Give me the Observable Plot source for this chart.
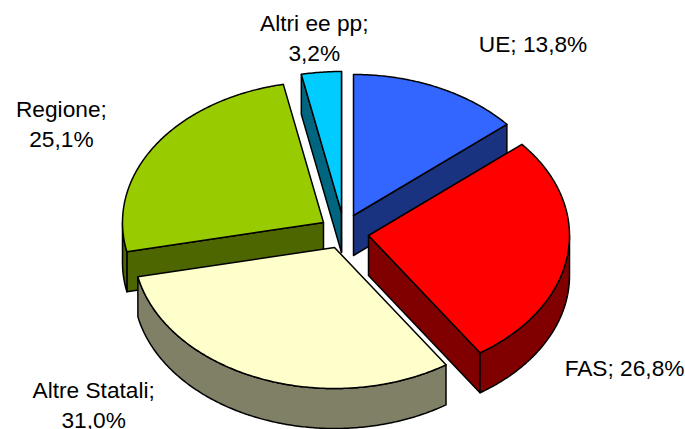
<!DOCTYPE html>
<html>
<head>
<meta charset="utf-8">
<script src="https://cdn.jsdelivr.net/npm/d3@7"></script>
<script src="https://cdn.jsdelivr.net/npm/@observablehq/plot@0.6"></script>
<style>html,body{margin:0;padding:0;background:#fff}</style>
</head>
<body>
<div id="chart"></div>
<script>
const categories = ["UE", "FAS", "Altre Statali", "Regione", "Altri ee pp"];
const shares = [13.8, 26.8, 31.0, 25.1, 3.2];
const topColors = ["#3366FF", "#FF0000", "#FFFFCC", "#99CC00", "#00CCFF"];
const wallColors = ["#1A3380", "#800000", "#808066", "#4D6600", "#006680"];

// Layout of the tilted, exploded pie
const radiusX = 201, radiusY = 141, depth = 40;
const pivotX = [353, 368, 334, 323, 341];
const pivotY = [215, 235, 247, 222, 212];
const labelNudgeX = [95, 57, -165, -94, -7];
const labelNudgeY = [-45, 111, 25, -23, -36];
const drawOrder = [4, 3, 0, 1, 2];

const slices = d3.pie().sort(null).value(d => d)(shares);

function rim(i, t, drop = 0) {
  return {x: pivotX[i] + radiusX * Math.sin(t), y: pivotY[i] - radiusY * Math.cos(t) + drop};
}
function arcPoints(i, a, b, drop = 0) {
  const n = Math.max(2, Math.ceil((b - a) / 0.01));
  return d3.range(n + 1).map(k => rim(i, a + (b - a) * k / n, drop));
}
function polygon(points, fill) {
  return Plot.line([...points, points[0]], {x: "x", y: "y", fill, stroke: "#000", strokeWidth: 1.5, strokeLinejoin: "round"});
}

const marks = [];
for (const i of drawOrder) {
  const {startAngle: a, endAngle: b} = slices[i];
  const apex = {x: pivotX[i], y: pivotY[i]};
  const apexLow = {x: pivotX[i], y: pivotY[i] + depth};
  // Cut faces that turn towards the viewer
  if (Math.sin(a) < 0) marks.push(polygon([apex, rim(i, a), rim(i, a, depth), apexLow], wallColors[i]));
  if (Math.sin(b) > 0) marks.push(polygon([apex, rim(i, b), rim(i, b, depth), apexLow], wallColors[i]));
  // Outer wall: only the front half of the rim shows
  const lo = Math.max(a, Math.PI / 2), hi = Math.min(b, 3 * Math.PI / 2);
  if (hi > lo) marks.push(polygon([...arcPoints(i, lo, hi), ...arcPoints(i, lo, hi, depth).reverse()], wallColors[i]));
  // Top face
  marks.push(polygon([apex, ...arcPoints(i, a, b)], topColors[i]));
}

const fmt = v => v.toFixed(1).replace(".", ",") + "%";
const labels = slices.map((s, i) => {
  const m = rim(i, (s.startAngle + s.endAngle) / 2);
  const oneLine = i < 2;
  return {
    x: m.x + labelNudgeX[i],
    y: m.y + labelNudgeY[i],
    text: categories[i] + ";" + (oneLine ? " " : "\n") + fmt(shares[i])
  };
});
marks.push(Plot.text(labels, {
  x: "x", y: "y", text: "text", fontSize: 22.7, lineHeight: 1.32,
  textAnchor: "middle", fill: "#000", fontFamily: "Liberation Sans"
}));

const chart = Plot.plot({
  width: 685, height: 429, margin: 0,
  x: {domain: [0, 685], range: [0, 685], axis: null},
  y: {domain: [0, 429], range: [0, 429], axis: null},
  style: {background: "#fff", fontFamily: "Liberation Sans"},
  marks
});
document.getElementById("chart").append(chart);
</script>
</body>
</html>
